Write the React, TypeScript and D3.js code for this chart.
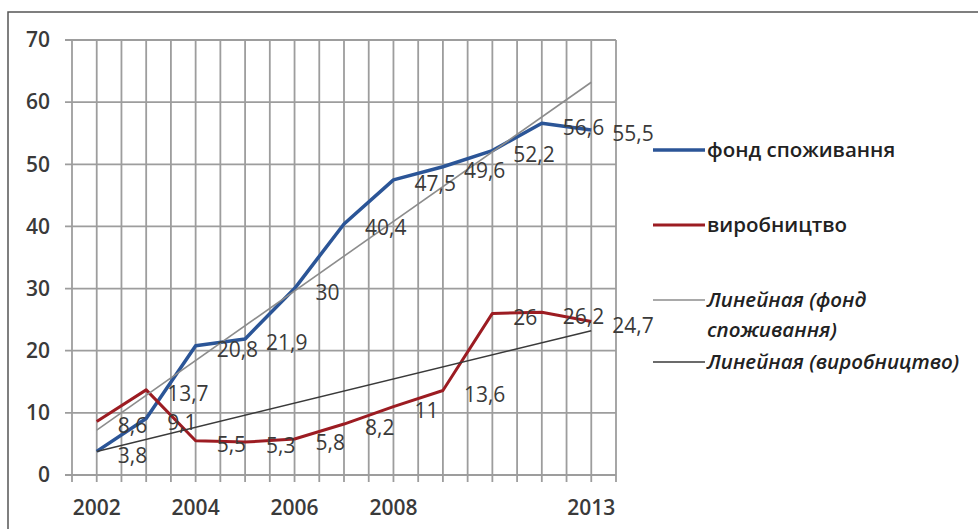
import React from "react"
import * as d3 from "d3"

// data
const categories = ["2002", "2003", "2004", "2005", "2006", "2007", "2008", "2009", "2010", "2011", "2012"]
const tickLabels = ["2002", "", "2004", "", "2006", "", "2008", "", "", "", "2013"]
const consumption = [3.8, 9.1, 20.8, 21.9, 30, 40.4, 47.5, 49.6, 52.2, 56.6, 55.5]
const production = [8.6, 13.7, 5.5, 5.3, 5.8, 8.2, 11, 13.6, 26, 26.2, 24.7]
const yTicks = [0, 10, 20, 30, 40, 50, 60, 70]

const legendItems = [
  { lines: ["фонд споживання"], color: "#2b5597", width: 3.5, italic: false },
  { lines: ["виробництво"], color: "#9c1c22", width: 3, italic: false },
  { lines: ["Линейная (фонд", "споживання)"], color: "#8c8c8c", width: 1.6, italic: true },
  { lines: ["Линейная (виробництво)"], color: "#3a3a3a", width: 1.6, italic: true },
]

const fmt = (v: number) => String(v).replace(".", ",")

// Excel style linear trendline
function trend(values: number[]) {
  const xs = values.map((_, i) => i)
  const mx = d3.mean(xs) as number
  const my = d3.mean(values) as number
  const sxy = d3.sum(xs, (x, i) => (x - mx) * (values[i] - my))
  const sxx = d3.sum(xs, (x) => (x - mx) ** 2)
  const b = sxy / sxx
  const a = my - b * mx
  return [a, a + b * (values.length - 1)]
}

export default function App() {
  const width = 978
  const height = 529
  const left = 72
  const right = 616
  const top = 40
  const bottom = 475

  const x = d3.scaleBand<string>().domain(categories).range([left, right]).paddingInner(0).paddingOuter(0)
  const bw = x.bandwidth()
  const cx = (c: string) => (x(c) as number) + bw / 2
  const y = d3.scaleLinear().domain([0, 70]).range([bottom, top])

  const line = d3
    .line<number>()
    .x((_, i) => cx(categories[i]))
    .y((d) => y(d))

  // vertical grid at band edges and centres
  const vLines: number[] = []
  categories.forEach((c) => {
    vLines.push(x(c) as number)
    vLines.push(cx(c))
  })
  vLines.push(right)

  const tC = trend(consumption)
  const tP = trend(production)
  const first = cx(categories[0])
  const last = cx(categories[categories.length - 1])

  const font = "'Open Sans', 'DejaVu Sans', sans-serif"
  const legendY = [150, 225, 300, 362]

  return (
    <svg width={width} height={height} style={{ position: "absolute", left: 0, top: 0, background: "#fff" }}>
      <rect x={8} y={12} width={1100} height={700} fill="#fff" stroke="#555" strokeWidth={1.5} />

      {/* grid */}
      <g stroke="#9d9d9d" strokeWidth={1.8}>
        {yTicks.map((t) => (
          <line key={"h" + t} x1={left - 7} x2={right} y1={y(t)} y2={y(t)} />
        ))}
        {vLines.map((v, i) => (
          <line key={"v" + i} x1={v} x2={v} y1={top} y2={bottom + 7} />
        ))}
      </g>

      {/* axis labels */}
      <g fontFamily={font} fontSize={21} fontWeight={600} fill="#3a3a3a">
        {yTicks.map((t) => (
          <text key={"yl" + t} x={50} y={y(t)} dy="0.35em" textAnchor="end">
            {t}
          </text>
        ))}
        {categories.map((c, i) => (
          <text key={"xl" + c} x={cx(c)} y={508} dy="0.35em" textAnchor="middle">
            {tickLabels[i]}
          </text>
        ))}
      </g>

      {/* series */}
      <path d={line(consumption) || ""} fill="none" stroke="#2b5597" strokeWidth={3.5} strokeLinejoin="round" />
      <path d={line(production) || ""} fill="none" stroke="#9c1c22" strokeWidth={3} strokeLinejoin="round" />
      <line x1={first} x2={last} y1={y(tC[0])} y2={y(tC[1])} stroke="#8c8c8c" strokeWidth={1.6} />
      <line x1={first} x2={last} y1={y(tP[0])} y2={y(tP[1])} stroke="#3a3a3a" strokeWidth={1.6} />

      {/* data labels */}
      <g fontFamily={font} fontSize={21} fill="#3a3a3a">
        {consumption.map((v, i) => (
          <text key={"lc" + i} x={cx(categories[i]) + 21} y={y(v) + 4} dy="0.35em">
            {fmt(v)}
          </text>
        ))}
        {production.map((v, i) => (
          <text key={"lp" + i} x={cx(categories[i]) + 21} y={y(v) + 4} dy="0.35em">
            {fmt(v)}
          </text>
        ))}
      </g>

      {/* legend */}
      <g fontFamily={font} fontSize={20.5} fill="#222">
        {legendItems.map((it, i) => (
          <g key={"lg" + i}>
            <line x1={653} x2={705} y1={legendY[i]} y2={legendY[i]} stroke={it.color} strokeWidth={it.width} />
            {it.lines.map((s, j) => (
              <text
                key={j}
                x={707}
                y={legendY[i] + j * 30}
                dy="0.35em"
                fontStyle={it.italic ? "italic" : "normal"}
                fontWeight={600}
              >
                {s}
              </text>
            ))}
          </g>
        ))}
      </g>
    </svg>
  )
}
